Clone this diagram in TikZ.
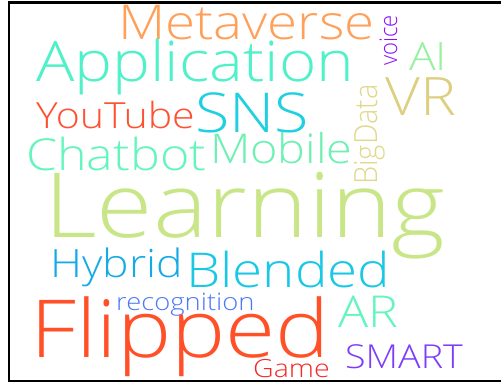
\documentclass[tikz,border=0pt]{standalone}
\usepackage{fontspec}
\setmainfont{Open Sans Light}
\definecolor{cMeta}{HTML}{FFA05A}
\definecolor{cAppl}{HTML}{50F0C8}
\definecolor{cVoice}{HTML}{8A10F8}
\definecolor{cAI}{HTML}{98F0A0}
\definecolor{cVR}{HTML}{DCD080}
\definecolor{cSNS}{HTML}{20D0E0}
\definecolor{cTube}{HTML}{FF5030}
\definecolor{cBig}{HTML}{E0D88C}
\definecolor{cChat}{HTML}{64F5BE}
\definecolor{cMob}{HTML}{6EF0B4}
\definecolor{cLearn}{HTML}{C8E688}
\definecolor{cHyb}{HTML}{14AAE6}
\definecolor{cBlend}{HTML}{1AC8E6}
\definecolor{cRecog}{HTML}{4B78F5}
\definecolor{cFlip}{HTML}{FF5028}
\definecolor{cAR}{HTML}{64F5BE}
\definecolor{cSmart}{HTML}{7D3CFA}
\definecolor{cGame}{HTML}{F52828}
\newcommand{\wfont}[1]{\fontsize{#1}{#1}\selectfont}
\begin{document}
\begin{tikzpicture}[x=1pt, y=1pt,
    word/.style={inner sep=0pt, anchor=base west, xscale=1.14},
    vword/.style={inner sep=0pt, anchor=base west, rotate=90, yscale=1.1}]
        \useasboundingbox (0,0) rectangle (501,-383);
        % Frame
        \draw[line width=2.2pt] (501,-2.5) -- (9,-2.5) -- (9,-381) -- (501,-381);
        % Horizontal words
        \foreach \w/\s/\x/\y/\c in {Metaverse/48/118/-39/cMeta, Application/56/36/-81/cAppl, AI/39/409/-70/cAI, VR/53/385/-115/cVR, SNS/55/195/-132/cSNS, YouTube/36/36/-128/cTube, Chatbot/44/26/-170/cChat, Mobile/41/210/-163/cMob, Learning/90/44/-237/cLearn, Hybrid/39/50/-277/cHyb, Blended/48/186/-287/cBlend, recognition/24/116/-310/cRecog, Flipped/80/30/-357/cFlip, AR/44/338/-327/cAR, SMART/33/345/-368/cSmart, Game/25/253/-377/cGame}
          \node[word, text=\c, font=\wfont{\s}] (\w) at (\x,\y) {\w};
        % Vertical words
        \node[vword, text=cVoice, font=\wfont{22}] (voice) at (397,-66) {voice};
        \node[vword, text=cBig, font=\wfont{29}] (BigData) at (377,-185) {BigData};
    \end{tikzpicture}
\end{document}
